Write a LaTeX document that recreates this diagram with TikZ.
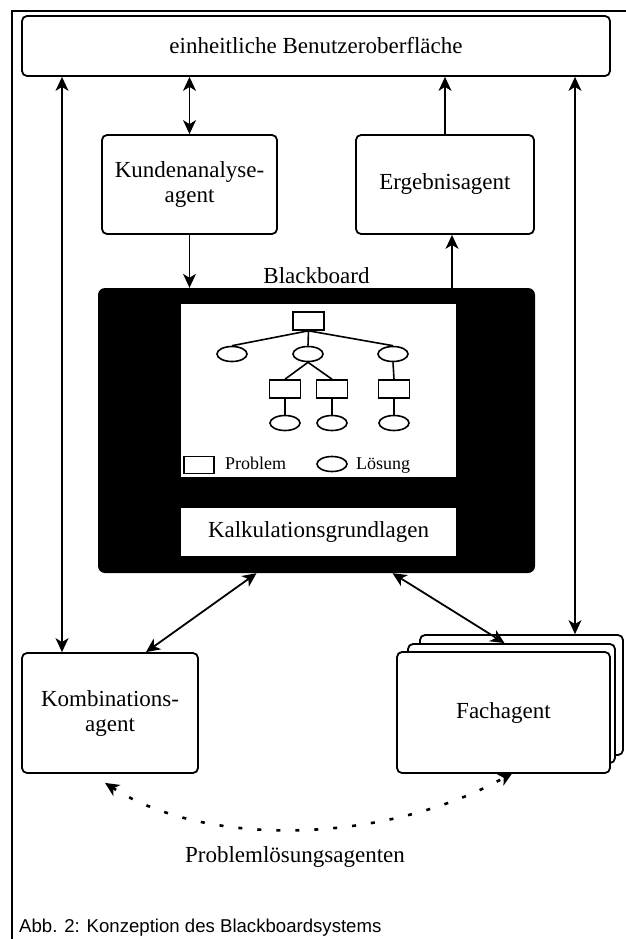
\documentclass[tikz,border=0pt]{standalone}
\usepackage{fontspec}
\setmainfont{Liberation Serif}
\newfontfamily\capfont{Liberation Sans}
\usetikzlibrary{positioning,shapes.geometric,arrows.meta,calc}

\begin{document}
\begin{tikzpicture}[x=1pt,y=-1pt,
    every node/.style={font=\fontsize{23}{25}\selectfont, align=center, inner sep=2pt},
    agentbox/.style={draw, line width=1.8pt, rounded corners=5pt, fill=white},
    prob/.style={draw, line width=1.6pt, minimum width=31pt, minimum height=18pt, inner sep=0pt},
    loes/.style={draw, ellipse, line width=1.6pt, minimum width=30pt, minimum height=15pt, inner sep=0pt},
    treeline/.style={line width=1.6pt},
    legend/.style={font=\fontsize{18}{20}\selectfont, anchor=base west, inner sep=0pt},
    arr/.style={-{Stealth[length=14pt,width=13pt,inset=4pt]}, line width=1.3pt},
    dbl/.style={{Stealth[length=14pt,width=13pt,inset=4pt]}-{Stealth[length=14pt,width=13pt,inset=4pt]}, line width=1.3pt},
  ]
    \useasboundingbox (0,0) rectangle (626,939);
    \draw[line width=2pt] (626,11) -- (12,11) -- (12,939);

    \node[agentbox, minimum width=588pt, minimum height=60pt] (ui) at (316,46) {einheitliche Benutzeroberfläche};
    \node[agentbox, minimum width=175pt, minimum height=99pt] (kunden) at (189.5,184.5) {Kundenanalyse-\\agent};
    \node[agentbox, minimum width=178pt, minimum height=99pt] (ergeb) at (445,184.5) {Ergebnisagent};

    \node[fill=black, rounded corners=7pt, minimum width=437pt, minimum height=285pt] (bb) at (316.5,430.5) {};
    \node[above=2pt of bb] (bblabel) {Blackboard};
    \node[fill=white, minimum width=275pt, minimum height=173pt] (panel) at (318.5,390.5) {};
    \node[fill=white, minimum width=275pt, minimum height=48pt] (kalk) at (318.5,532) {Kalkulationsgrundlagen};

    % Problem-/Loesungsbaum
    \node[prob] (root) at (308.5,321) {};
    \node[loes] (e1) at (232,354) {};
    \node[loes] (e2) at (308,354) {};
    \node[loes] (e3) at (393,354) {};
    \node[prob] (r1) at (285,389) {};
    \node[prob] (r2) at (332,389) {};
    \node[prob] (r3) at (394,389) {};
    \node[loes] (l1) at (285,423) {};
    \node[loes] (l2) at (332,423) {};
    \node[loes] (l3) at (394,423) {};
    \draw[treeline] (root.south) -- (e1.north);
    \draw[treeline] (root.south) -- (e2.north);
    \draw[treeline] (root.south) -- (e3.north);
    \draw[treeline] (e2.south) -- (r1.north);
    \draw[treeline] (e2.south) -- (r2.north);
    \draw[treeline] (e3.south) -- (r3.north);
    \foreach \i in {1,2,3}
      \draw[treeline] (r\i.south) -- (l\i.north);

    \node[prob, minimum width=30pt, minimum height=17pt] (lp) at (199,465) {};
    \node[legend] (lptext) at (225,469) {Problem};
    \node[loes] (ll) at (332,464) {};
    \node[legend] (lltext) at (356,469) {Lösung};

    \node[agentbox, minimum width=176pt, minimum height=120pt] (kombi) at (110,713) {Kombinations-\\agent};
    \node[agentbox, minimum width=203pt, minimum height=120pt] (fach3) at (521.5,695) {};
    \node[agentbox, minimum width=207pt, minimum height=119pt] (fach2) at (511.5,703.5) {};
    \node[agentbox, minimum width=213pt, minimum height=121pt] (fach) at (503.5,712.5) {Fachagent};

    \node (pla) at (295,857) {Problemlösungsagenten};
    \node[font=\capfont\fontsize{18.6}{20}\selectfont, anchor=west, inner sep=0pt] (caption) at (19,928) {Abb. 2: Konzeption des Blackboardsystems};

    \coordinate (lx) at (62,0);
    \coordinate (rx) at (575,0);
    \draw[dbl] (ui.south -| lx) -- (kombi.north -| lx);
    \draw[dbl] (ui.south -| rx) -- (fach3.north -| rx);
    \draw[dbl] (ui.south -| kunden.north) -- (kunden.north);
    \draw[arr] (ergeb.north) -- (ui.south -| ergeb.north);
    \draw[arr] (kunden.south) -- (kunden.south |- bb.north);
    \draw[arr] ([xshift=7pt]ergeb.south |- bb.north) -- ([xshift=7pt]ergeb.south);
    \draw[dbl, line width=1.8pt] ([xshift=-60pt]bb.south) -- ([xshift=36pt]kombi.north);
    \draw[dbl, line width=1.8pt] ([xshift=76pt]bb.south) -- ([xshift=-7pt]fach2.north);
    \draw[dbl, line width=2.6pt, dash pattern=on 4pt off 15pt]
      ([xshift=-5pt,yshift=-9pt]kombi.south) .. controls (210,850) and (390,842) .. ([xshift=9pt,yshift=1pt]fach.south);
\end{tikzpicture}
\end{document}
